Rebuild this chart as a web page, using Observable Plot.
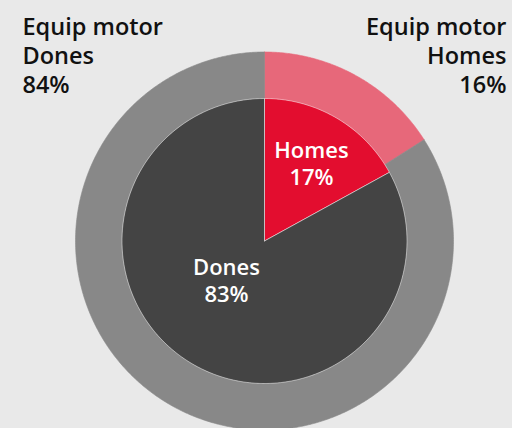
<!DOCTYPE html>
<html>
<head>
<meta charset="utf-8">
<script src="https://cdn.jsdelivr.net/npm/d3@7"></script>
<script src="https://cdn.jsdelivr.net/npm/@observablehq/plot@0.6"></script>
<style>
  html, body { margin: 0; padding: 0; background: #e9e9e9; }
  #chart { width: 512px; height: 428px; }
</style>
</head>
<body>
<div id="chart"></div>
<script>
// ---- data ----
const categories = ["Homes", "Dones"];
const innerValues = [17, 83];          // inner pie (%)
const outerValues = [16, 84];          // outer ring "Equip motor" (%)
const outerTitle = "Equip motor";

// ---- styling / layout ----
const innerColors = ["#e30d2f", "#444444"];
const outerColors = ["#e7687a", "#888888"];
const W = 512, H = 428;
const R = 189, cx = 264, cy = 240.5;   // px
const innerR = 0.754;                   // fraction of outer radius
const font = "'Open Sans', sans-serif";

function slices(values) {
  const total = d3.sum(values);
  let acc = 0;
  return values.map((v, i) => {
    const a0 = acc / total * 2 * Math.PI;
    acc += v;
    const a1 = acc / total * 2 * Math.PI;
    return {cat: categories[i], value: v, a0, a1};
  });
}
function arcPts(a0, a1, r, rev) {
  const n = Math.max(2, Math.ceil((a1 - a0) / (Math.PI / 360)));
  const pts = [];
  for (let k = 0; k <= n; k++) {
    const a = a0 + (a1 - a0) * k / n;
    pts.push({x: r * Math.sin(a), y: r * Math.cos(a)});
  }
  return rev ? pts.reverse() : pts;
}

const marks = [];
// outer ring
slices(outerValues).forEach((s, i) => {
  const poly = [...arcPts(s.a0, s.a1, 1, false), ...arcPts(s.a0, s.a1, innerR, true)];
  poly.push(poly[0]);
  marks.push(Plot.line(poly, {x: "x", y: "y", fill: outerColors[i], stroke: outerColors[i], strokeWidth: 0.6, curve: "linear"}));
});
// inner pie
const innerSl = slices(innerValues);
innerSl.forEach((s, i) => {
  const poly = [{x: 0, y: 0}, ...arcPts(s.a0, s.a1, innerR, false), {x: 0, y: 0}];
  marks.push(Plot.line(poly, {x: "x", y: "y", fill: innerColors[i], stroke: "#ffffff", strokeWidth: 0.6, strokeOpacity: 0.8, curve: "linear"}));
});

// inner labels (angle clockwise from top in degrees, radius as fraction of inner radius)
const labelPos = [ {ang: 31, r: 0.64, lh: 1.24}, {ang: 224.6, r: 0.38, lh: 1.27} ];
innerSl.forEach((s, i) => {
  const a = labelPos[i].ang * Math.PI / 180, r = labelPos[i].r * innerR;
  marks.push(Plot.text([{x: r * Math.sin(a), y: r * Math.cos(a), text: `${s.cat}\n${s.value}%`}], {
    x: "x", y: "y", text: "text", fill: "#ffffff", fontSize: 22, fontWeight: 600,
    fontFamily: font, lineHeight: labelPos[i].lh, textAnchor: "middle", lineAnchor: "middle"
  }));
});

// outer labels
marks.push(Plot.text([`${outerTitle}\n${categories[1]}\n${outerValues[1]}%`], {
  frameAnchor: "top-left", dx: 22, dy: 14, textAnchor: "start", lineAnchor: "top",
  fill: "#111111", fontSize: 23.5, fontWeight: 600, fontFamily: font, lineHeight: 1.24
}));
marks.push(Plot.text([`${outerTitle}\n${categories[0]}\n${outerValues[0]}%`], {
  frameAnchor: "top-right", dx: -6, dy: 14, textAnchor: "end", lineAnchor: "top",
  fill: "#111111", fontSize: 23.5, fontWeight: 600, fontFamily: font, lineHeight: 1.24
}));

const chart = Plot.plot({
  width: W, height: H,
  margin: 0,
  style: {background: "#e9e9e9", overflow: "hidden"},
  x: {domain: [-cx / R, (W - cx) / R], axis: null},
  y: {domain: [-(H - cy) / R, cy / R], axis: null},
  marks
});
document.getElementById("chart").appendChild(chart);
</script>
</body>
</html>
